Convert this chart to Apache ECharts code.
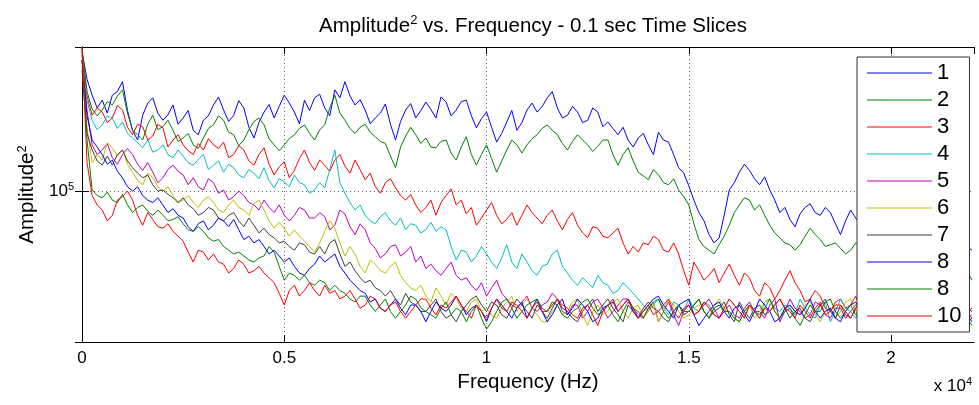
<!DOCTYPE html>
<html>
<head>
<meta charset="utf-8">
<script src="https://cdn.jsdelivr.net/npm/echarts@6/dist/echarts.min.js"></script>
<style>
  html, body { margin: 0; padding: 0; background: #fff; }
  #chart { width: 979px; height: 405px; }
</style>
</head>
<body>
<div id="chart"></div>
<script>
// Spectrum of each 0.1 s time slice, sampled every 125 Hz (values in units of 10^3).
const FREQ_STEP_HZ = 125;
const FREQ_MAX_HZ = 22050;
const AMP_UNIT = 1e3;

const xTickLabels = ['0', '0.5', '1', '1.5', '2'];
const sliceLabels = ['1', '2', '3', '4', '5', '6', '7', '8', '8', '10'];

const slice1 = [
  360, 280, 242, 215, 231, 205, 242, 250, 274, 210,
  175, 160, 201, 225, 236, 205, 192, 202, 221, 185,
  196, 210, 175, 168, 192, 200, 221, 238, 211, 190,
  201, 230, 215, 180, 163, 188, 207, 222, 196, 218,
  242, 225, 207, 186, 231, 210, 236, 244, 215, 200,
  254, 236, 274, 240, 221, 232, 211, 186, 196, 205,
  223, 185, 160, 190, 211, 224, 196, 210, 227, 212,
  196, 238, 227, 200, 211, 228, 231, 200, 179, 195,
  207, 180, 157, 170, 189, 210, 175, 188, 211, 225,
  207, 218, 236, 250, 215, 196, 201, 218, 207, 188,
  192, 215, 207, 181, 189, 178, 168, 180, 160, 150,
  163, 170, 153, 140, 172, 160, 157, 140, 124, 118,
  105, 92, 82, 76, 67, 62, 65, 80, 101, 108,
  119, 128, 121, 112, 106, 114, 101, 92, 82, 86,
  77, 72, 81, 86, 89, 82, 80, 86, 82, 74,
  67, 76, 84, 78, 73, 70, 77, 74, 70, 76,
  73, 68, 69, 72, 71, 68, 65, 70, 67, 62,
  64, 66, 65, 63, 61, 60, 58];
const slice2 = [
  375, 250, 213, 200, 211, 228, 221, 240, 254, 205,
  175, 168, 160, 185, 201, 176, 181, 192, 175, 158,
  163, 170, 153, 148, 163, 178, 184, 200, 192, 172,
  168, 152, 160, 176, 190, 196, 184, 162, 153, 145,
  153, 162, 168, 178, 184, 170, 160, 176, 184, 215,
  242, 205, 192, 178, 170, 180, 185, 172, 165, 158,
  155, 138, 124, 150, 166, 180, 168, 155, 163, 150,
  149, 158, 160, 142, 133, 150, 165, 140, 127, 140,
  153, 135, 119, 132, 146, 160, 153, 142, 153, 162,
  168, 178, 184, 175, 168, 155, 146, 158, 168, 160,
  153, 144, 151, 160, 160, 140, 127, 140, 149, 132,
  119, 115, 111, 122, 116, 108, 106, 112, 101, 95,
  88, 74, 64, 60, 58, 56, 61, 66, 73, 82,
  88, 94, 92, 84, 88, 80, 73, 68, 65, 62,
  61, 58, 61, 66, 71, 67, 64, 60, 61, 62,
  59, 56, 58, 62, 61, 57, 58, 56, 55, 58,
  57, 55, 54, 57, 56, 54, 53, 56, 55, 53,
  52, 55, 54, 51, 53, 48, 44];
const slice3 = [
  350, 240, 201, 215, 207, 188, 196, 220, 211, 180,
  168, 185, 181, 160, 166, 185, 179, 150, 160, 168,
  153, 145, 140, 155, 146, 162, 153, 148, 157, 136,
  140, 152, 146, 132, 127, 140, 149, 128, 116, 125,
  131, 113, 121, 135, 146, 130, 121, 133, 127, 120,
  133, 140, 126, 118, 133, 122, 111, 118, 104, 98,
  108, 112, 103, 96, 92, 97, 88, 82, 86, 92,
  80, 90, 96, 102, 88, 92, 81, 86, 73, 78,
  84, 90, 80, 74, 77, 82, 73, 80, 88, 82,
  78, 74, 80, 84, 76, 70, 77, 82, 73, 68,
  65, 72, 71, 66, 65, 68, 71, 62, 56, 60,
  57, 62, 61, 66, 64, 58, 57, 62, 56, 48,
  42, 52, 48, 44, 46, 49, 43, 47, 51, 46,
  42, 47, 45, 40, 38, 43, 41, 37, 40, 44,
  48, 43, 40, 36, 37, 40, 38, 34, 33, 36,
  37, 34, 35, 38, 33, 31, 37, 34, 32, 35,
  35, 32, 33, 36, 36, 33, 31, 35, 34, 30,
  33, 35, 37, 33, 32, 30, 31];
const slice4 = [
  334, 230, 192, 176, 184, 200, 196, 178, 189, 170,
  163, 156, 149, 160, 143, 146, 153, 140, 136, 146,
  138, 130, 127, 134, 140, 122, 127, 132, 119, 128,
  124, 116, 113, 122, 118, 112, 124, 110, 103, 112,
  109, 104, 116, 108, 106, 98, 101, 108, 103, 122,
  146, 108, 98, 90, 84, 88, 80, 76, 74, 79,
  82, 76, 73, 78, 70, 74, 73, 68, 70, 75,
  69, 72, 70, 60, 53, 58, 57, 52, 55, 60,
  56, 52, 49, 54, 61, 52, 49, 56, 52, 48,
  46, 50, 51, 56, 58, 50, 47, 44, 42, 45,
  43, 41, 46, 43, 42, 39, 40, 43, 41, 39,
  37, 35, 33, 35, 37, 34, 32, 36, 35, 33,
  37, 34, 33, 36, 35, 32, 31, 34, 37, 35,
  33, 31, 35, 33, 31, 36, 37, 34, 33, 35,
  34, 32, 37, 34, 32, 31, 35, 36, 30, 33,
  37, 34, 33, 31, 35, 36, 31, 34, 36, 33,
  32, 35, 34, 31, 30, 33, 35, 31, 33, 36,
  37, 33, 31, 36, 34, 31, 32];
const slice5 = [
  334, 210, 153, 140, 146, 155, 136, 128, 140, 148,
  140, 128, 121, 130, 119, 108, 113, 122, 127, 120,
  116, 106, 113, 104, 101, 112, 108, 98, 101, 92,
  95, 100, 96, 90, 88, 84, 92, 86, 82, 88,
  80, 76, 80, 86, 84, 78, 78, 82, 79, 70,
  73, 84, 81, 72, 67, 74, 70, 62, 59, 54,
  56, 60, 61, 55, 57, 60, 52, 55, 49, 51,
  48, 46, 49, 52, 46, 44, 45, 42, 40, 43,
  38, 41, 44, 39, 37, 35, 34, 36, 38, 34,
  33, 35, 36, 39, 37, 33, 32, 35, 35, 31,
  33, 36, 37, 34, 31, 33, 35, 37, 37, 34,
  32, 31, 34, 36, 30, 33, 36, 32, 29, 33,
  35, 32, 33, 35, 37, 34, 31, 33, 35, 32,
  31, 34, 36, 33, 33, 31, 35, 37, 30, 33,
  37, 34, 33, 31, 32, 36, 35, 32, 31, 34,
  34, 31, 33, 35, 37, 33, 31, 34, 35, 32,
  30, 33, 36, 34, 33, 30, 31, 34, 35, 33,
  32, 35, 37, 33, 31, 33, 34];
const slice6 = [
  319, 180, 130, 140, 133, 156, 149, 138, 146, 128,
  119, 110, 106, 118, 113, 104, 100, 104, 96, 90,
  92, 96, 90, 86, 92, 95, 90, 84, 82, 88,
  92, 86, 84, 80, 89, 92, 84, 76, 71, 75,
  71, 66, 70, 66, 63, 60, 57, 62, 69, 76,
  71, 62, 55, 60, 56, 50, 47, 53, 51, 48,
  47, 50, 52, 46, 43, 41, 40, 42, 38, 36,
  41, 38, 35, 39, 37, 34, 33, 36, 37, 33,
  34, 32, 31, 34, 36, 38, 33, 35, 37, 34,
  32, 30, 30, 33, 35, 32, 33, 36, 37, 32,
  29, 33, 35, 32, 33, 36, 37, 33, 31, 34,
  35, 31, 33, 36, 30, 33, 37, 35, 33, 31,
  32, 34, 35, 33, 31, 35, 37, 34, 33, 31,
  30, 33, 35, 31, 33, 36, 37, 33, 31, 34,
  35, 33, 32, 35, 36, 32, 30, 33, 34, 31,
  33, 36, 37, 33, 31, 34, 35, 32, 32, 34,
  30, 33, 35, 32, 33, 35, 37, 34, 31, 33,
  34, 32, 30, 34, 36, 34, 33];
const slice7 = [
  305, 170, 146, 132, 127, 138, 127, 140, 146, 132,
  124, 118, 113, 116, 106, 100, 101, 97, 94, 90,
  94, 88, 85, 80, 82, 86, 84, 78, 76, 80,
  82, 76, 72, 78, 73, 68, 71, 67, 65, 62,
  63, 60, 58, 62, 61, 57, 56, 60, 56, 62,
  64, 56, 50, 52, 48, 45, 43, 44, 41, 40,
  38, 40, 37, 35, 39, 36, 35, 33, 33, 35,
  37, 33, 31, 32, 30, 33, 35, 37, 38, 35,
  33, 36, 35, 32, 31, 34, 37, 35, 33, 31,
  35, 33, 31, 34, 37, 34, 33, 31, 30, 33,
  35, 37, 33, 35, 37, 34, 32, 30, 35, 33,
  31, 34, 36, 34, 33, 31, 30, 33, 35, 32,
  33, 35, 37, 33, 31, 33, 34, 36, 32, 30,
  36, 33, 31, 34, 35, 32, 33, 35, 37, 34,
  31, 33, 34, 31, 30, 33, 35, 37, 33, 31,
  35, 33, 31, 34, 36, 33, 33, 35, 32, 35,
  37, 34, 31, 33, 35, 32, 30, 33, 34, 36,
  33, 35, 36, 32, 31, 34, 33];
const slice8 = [
  334, 200, 160, 150, 140, 128, 133, 120, 113, 104,
  100, 104, 96, 92, 90, 94, 88, 82, 85, 80,
  78, 72, 69, 74, 76, 70, 73, 78, 76, 72,
  77, 70, 64, 66, 62, 64, 60, 56, 58, 55,
  52, 54, 50, 47, 46, 49, 51, 55, 52, 54,
  56, 50, 47, 44, 42, 40, 39, 36, 37, 34,
  33, 35, 37, 34, 32, 35, 35, 33, 30, 33,
  36, 34, 33, 35, 38, 35, 32, 34, 35, 33,
  30, 34, 37, 35, 33, 31, 34, 36, 31, 34,
  37, 33, 30, 32, 35, 37, 32, 34, 37, 35,
  33, 30, 31, 34, 35, 36, 33, 35, 37, 33,
  31, 33, 35, 37, 38, 35, 33, 31, 35, 36,
  37, 32, 29, 31, 33, 35, 36, 33, 31, 34,
  35, 32, 30, 33, 37, 35, 33, 30, 31, 34,
  35, 33, 32, 34, 37, 33, 31, 33, 34, 31,
  30, 33, 35, 36, 33, 31, 37, 34, 31, 33,
  35, 33, 32, 35, 36, 33, 30, 32, 34, 36,
  33, 35, 37, 34, 31, 32, 30];
const slice9 = [
  377, 160, 101, 96, 94, 99, 92, 90, 97, 88,
  82, 86, 88, 83, 80, 84, 80, 76, 77, 79,
  74, 70, 69, 72, 69, 65, 63, 64, 60, 58,
  56, 57, 55, 53, 52, 54, 55, 60, 57, 50,
  44, 47, 46, 44, 46, 43, 42, 44, 43, 40,
  42, 40, 39, 37, 36, 38, 38, 35, 33, 35,
  37, 33, 31, 33, 35, 38, 37, 34, 33, 32,
  31, 34, 36, 32, 34, 33, 30, 33, 35, 31,
  28, 30, 33, 36, 37, 34, 31, 33, 35, 36,
  37, 34, 33, 36, 35, 32, 31, 33, 34, 36,
  37, 34, 32, 33, 35, 32, 30, 33, 36, 34,
  33, 31, 34, 36, 37, 33, 31, 33, 35, 33,
  33, 35, 37, 33, 31, 34, 35, 33, 33, 31,
  30, 33, 35, 33, 32, 34, 37, 33, 31, 33,
  34, 31, 29, 32, 35, 33, 33, 36, 37, 33,
  31, 33, 35, 32, 33, 35, 36, 33, 30, 32,
  34, 33, 32, 35, 37, 33, 31, 33, 35, 32,
  33, 34, 35, 32, 30, 31, 29];
const slice10 = [
  377, 130, 96, 88, 84, 76, 80, 92, 95, 100,
  92, 80, 73, 82, 77, 72, 71, 74, 69, 66,
  63, 57, 52, 58, 57, 53, 56, 52, 51, 47,
  49, 53, 51, 47, 48, 50, 47, 45, 43, 39,
  35, 40, 42, 38, 40, 43, 40, 38, 42, 39,
  40, 37, 38, 40, 37, 34, 35, 38, 37, 34,
  33, 35, 36, 33, 31, 33, 35, 37, 37, 34,
  32, 35, 34, 36, 38, 35, 33, 31, 35, 33,
  31, 34, 37, 34, 33, 36, 35, 33, 31, 34,
  36, 33, 33, 35, 37, 35, 34, 32, 31, 34,
  35, 32, 29, 33, 35, 37, 33, 35, 37, 34,
  31, 33, 35, 32, 33, 35, 37, 33, 31, 34,
  35, 32, 33, 36, 34, 32, 31, 34, 37, 35,
  33, 31, 35, 33, 31, 34, 33, 35, 37, 34,
  33, 31, 35, 33, 31, 34, 36, 32, 33, 35,
  35, 32, 31, 34, 37, 34, 33, 31, 35, 33,
  31, 34, 36, 33, 33, 36, 38, 35, 32, 34,
  35, 32, 30, 34, 37, 33, 31];

const slices = [slice1, slice2, slice3, slice4, slice5, slice6, slice7, slice8, slice9, slice10];
const lineColors = ['#0000ff', '#008000', '#ff0000', '#00bfbf', '#bf00bf', '#bfbf00', '#404040',
  '#0000ff', '#008000', '#ff0000'];

const FONT = '"Liberation Sans", Arial, Helvetica, sans-serif';
const Y_MIN = 24900;
const Y_MAX = 377000;

const supSmall = { fontSize: 11, fontFamily: FONT, color: '#000', verticalAlign: 'top', lineHeight: 11 };
const supLarge = { fontSize: 13, fontFamily: FONT, color: '#000', verticalAlign: 'top', lineHeight: 13 };

const freqs = slice1.map((_, i) => i * FREQ_STEP_HZ);
const seriesNames = slices.map((_, k) => 'slice' + (k + 1));

const series = slices.map((vals, k) => ({
  type: 'line',
  name: seriesNames[k],
  data: vals.map((v, i) => [freqs[i], v * AMP_UNIT]),
  showSymbol: false,
  symbol: 'none',
  lineStyle: { width: 1, color: lineColors[k] },
  itemStyle: { color: lineColors[k] },
  emphasis: { disabled: true },
  animation: false,
  z: 2
}));

const dotted = { type: [1, 3], color: '#666', width: 1 };

const chart = echarts.init(document.getElementById('chart'), null, { renderer: 'canvas' });
chart.setOption({
  animation: false,
  backgroundColor: '#fff',
  textStyle: { fontFamily: FONT },
  title: {
    text: 'Amplitude{sup|2} vs. Frequency - 0.1 sec Time Slices',
    left: 528,
    top: 9,
    textAlign: 'center',
    textStyle: {
      fontSize: 20.5, fontWeight: 'normal', color: '#000', fontFamily: FONT, lineHeight: 24,
      rich: { sup: supLarge }
    }
  },
  grid: { left: 82, top: 47, right: 5, bottom: 63, show: false },
  legend: {
    orient: 'vertical',
    left: 857,
    top: 57,
    padding: [5, 8, 5, 10],
    icon: 'rect',
    itemWidth: 65,
    itemHeight: 1,
    itemGap: 5,
    backgroundColor: '#fff',
    borderColor: '#333',
    borderWidth: 1,
    selectedMode: false,
    data: seriesNames,
    formatter: name => sliceLabels[seriesNames.indexOf(name)],
    textStyle: { fontSize: 22, lineHeight: 22, color: '#000', fontFamily: FONT }
  },
  xAxis: [
    {
      type: 'value', min: 0, max: FREQ_MAX_HZ, interval: 5000, position: 'bottom',
      name: 'Frequency (Hz)', nameLocation: 'middle', nameGap: 29,
      nameTextStyle: { fontSize: 20.5, color: '#000', fontFamily: FONT },
      axisLine: { show: true, lineStyle: { color: '#000', width: 1 } },
      axisTick: { show: true, inside: true, length: 7, lineStyle: { color: '#000' } },
      axisLabel: {
        fontSize: 17, color: '#000', margin: 8, fontFamily: FONT, showMaxLabel: false,
        formatter: v => (v % 5000 === 0 ? xTickLabels[v / 5000] : '')
      },
      splitLine: { show: true, lineStyle: dotted, showMinLine: false, showMaxLine: false }
    },
    {
      type: 'value', min: 0, max: FREQ_MAX_HZ, interval: 5000, position: 'top',
      axisLine: { show: true, lineStyle: { color: '#000', width: 1 } },
      axisTick: { show: true, inside: true, length: 7, lineStyle: { color: '#000' } },
      axisLabel: { show: false },
      splitLine: { show: false }
    }
  ],
  yAxis: [
    {
      type: 'log', min: Y_MIN, max: Y_MAX, position: 'left',
      name: 'Amplitude{sup|2}', nameLocation: 'middle', nameGap: 36,
      nameTextStyle: { fontSize: 20.5, color: '#000', fontFamily: FONT, lineHeight: 22, rich: { sup: supLarge } },
      axisLine: { show: true, lineStyle: { color: '#000', width: 1 } },
      axisTick: { show: true, inside: true, length: 7, lineStyle: { color: '#000' } },
      axisLabel: {
        fontSize: 17, color: '#000', margin: 8, fontFamily: FONT, lineHeight: 20,
        showMinLabel: false, showMaxLabel: false,
        formatter: v => (Math.abs(Math.log10(v) - 5) < 1e-6 ? '10{sup|5}' : ''),
        rich: { sup: supSmall }
      },
      splitLine: { show: true, lineStyle: dotted, showMinLine: false, showMaxLine: false }
    },
    {
      type: 'log', min: Y_MIN, max: Y_MAX, position: 'right',
      axisLine: { show: true, lineStyle: { color: '#000', width: 1 } },
      axisTick: { show: true, inside: true, length: 7, lineStyle: { color: '#000' } },
      axisLabel: { show: false },
      splitLine: { show: false }
    }
  ],
  graphic: [
    {
      type: 'text',
      right: 7,
      top: 376,
      style: {
        text: 'x 10{sup|4}',
        fontSize: 17, fontFamily: FONT, fill: '#000', lineHeight: 20,
        rich: { sup: supSmall }
      }
    }
  ],
  series: series
});
</script>
</body>
</html>
